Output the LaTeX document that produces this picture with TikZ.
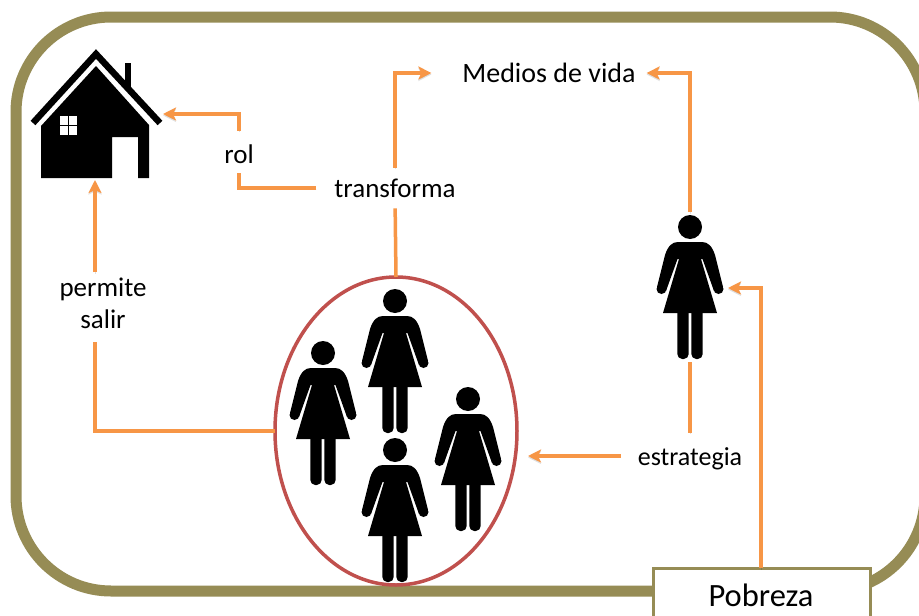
\documentclass[tikz,border=0pt]{standalone}
\usepackage{fontspec}
\setmainfont{Carlito}
\usetikzlibrary{arrows.meta,shapes.geometric}
\definecolor{olive}{HTML}{968C55}
\definecolor{naranja}{HTML}{F79646}
\definecolor{rojo}{HTML}{C0504D}
\tikzset{
  woman/.pic={
    \fill (0,0) circle (12);
    \foreach \s in {-1,1} {
      \fill[xscale=\s] (0,15) -- (-12,15) .. controls (-18,15) and (-22,19) .. (-25,28) -- (-33,60) -- (-24,64) -- (-12.5,32) -- (0,32) -- cycle;
      \fill (\s*28.5,62) circle (5);
    }
    \fill (-27,86) -- (27,86) -- (11,32) -- (-11,32) -- cycle;
    \fill[rounded corners=5] (-12.7,80) -- (-1.3,80) -- (-1.3,132) -- (-12.7,132) -- cycle;
    \fill[rounded corners=5] (1.3,80) -- (12.7,80) -- (12.7,132) -- (1.3,132) -- cycle;
  },
  house/.pic={
    \fill (41,178) -- (41,126) -- (96,66) -- (149,125) -- (149,178) -- (138,178) -- (138,137) -- (112,137) -- (112,178) -- cycle;
    \fill[white] (60,116) rectangle (77,135);
    \draw[line width=1.3] (68.5,116) -- (68.5,135) (60,125.5) -- (77,125.5);
    \fill (125,63) rectangle (131,88);
    \draw[line width=6.5,miter limit=10] (33,123) -- (96,54) -- (160,123);
  }
}
\tikzstyle{every node} = [inner sep=0pt, outer sep=0pt]
\tikzstyle{label} = [font=\fontsize{27}{32}\selectfont, align=center]
\tikzstyle{hueco} = [minimum width=60, minimum height=130]
\tikzstyle{line} = [draw=naranja, line width=3.5, preaction={draw=black, opacity=.12, transform canvas={yshift=-1.5}}]
\tikzstyle{arrow} = [line, -{Stealth[length=13,width=13,inset=3]}]
\begin{document}
\begin{tikzpicture}[x=1pt, y=-1pt]
\clip (0,0) rectangle (919,616);
\fill[white] (0,0) rectangle (919,616);
\draw[olive, line width=11, rounded corners=95] (16,17) rectangle (925,591);
% group of women
\node[ellipse, draw=rojo, line width=3.5, minimum width=242, minimum height=308] (grupo) at (396,431) {};
\foreach \x/\y in {395/301, 323/353, 468/399, 395/450}
\pic at (\x,\y) {woman};
\pic at (690,227) {woman};
\pic at (0,0) {house};
% shapes and labels
\node[minimum width=120, minimum height=130] (casa) at (96,114) {};
\node[hueco] (mujer) at (690,287) {};
\node[label, font=\fontsize{28}{32}\selectfont] (medios) at (549,73) {Medios de vida};
\node[label] (transforma) at (395,188) {transforma};
\node[label] (rol) at (239,154) {rol};
\node[label] (permite) at (103,303) {permite\\salir};
\node[label, font=\fontsize{26}{32}\selectfont] (estrategia) at (690,459) {estrategia};
\node[draw=olive, fill=white, line width=3, minimum width=217, minimum height=80, anchor=north west] (pobreza) at (653,568) {};
\node[font=\fontsize{32.5}{36}\selectfont] (pobrezatxt) at (761,595) {Pobreza};
\coordinate (permitearriba) at (95,272);
\coordinate (permiteabajo) at (95,342);
\coordinate (casaabajo) at (95,180);
% connectors
\draw[arrow, shorten <=11, shorten >=31] (transforma.north) |- (medios.west);
\draw[arrow, shorten <=10, shorten >=11] (mujer.north) |- (medios.east);
\draw[line, shorten <=18, shorten >=10] (transforma.west) -| (rol.south);
\draw[arrow, shorten <=14, shorten >=7] (rol.north) |- (casa.east);
\draw[line, shorten <=11] (transforma.south) -- (grupo.north);
\draw[line] (grupo.west) -| (permiteabajo);
\draw[arrow] (permitearriba) -- (casaabajo);
\draw[line, shorten <=10, shorten >=15] (mujer.south) -- (estrategia.north);
\draw[arrow, shorten <=17, shorten >=11] ([yshift=3pt]estrategia.west) -- (grupo.east |- 0,456);
\draw[arrow, shorten >=8] (pobreza.north -| 761,0) |- (mujer.east |- 0,288);
\end{tikzpicture}
\end{document}
